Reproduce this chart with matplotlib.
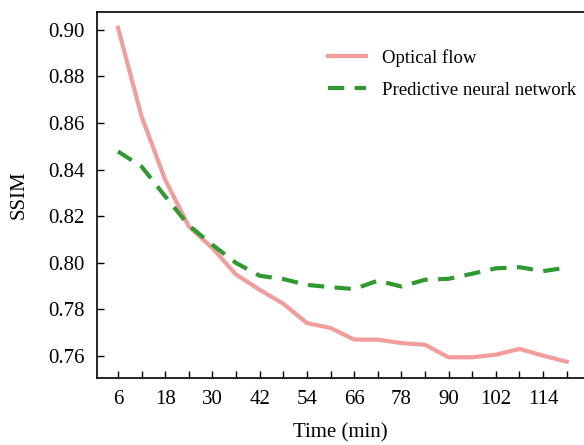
import matplotlib
matplotlib.use("Agg")
from matplotlib import pyplot as plt

# SSIM over forecast lead time for the two methods
minutes = [6, 12, 18, 24, 30, 36, 42, 48, 54, 60,
           66, 72, 78, 84, 90, 96, 102, 108, 114, 120]
optical_flow = [0.9009, 0.8628, 0.8356, 0.8156, 0.8063, 0.7949, 0.7884, 0.7824, 0.7741, 0.7720,
                0.7670, 0.7670, 0.7655, 0.7648, 0.7594, 0.7594, 0.7605, 0.7630, 0.7601, 0.7575]
predictive_nn = [0.8478, 0.8413, 0.8285, 0.8160, 0.8077, 0.7999, 0.7944, 0.7930, 0.7905, 0.7895,
                 0.7887, 0.7923, 0.7898, 0.7927, 0.7931, 0.7953, 0.7976, 0.7981, 0.7964, 0.7979]
yticks = [0.76, 0.78, 0.80, 0.82, 0.84, 0.86, 0.88, 0.90]

plt.rcParams['font.family'] = ['Liberation Serif', 'DejaVu Serif']

fig = plt.figure(figsize=(5.84, 4.45), dpi=100)
ax = fig.add_axes([97/584, 67/445, 487/584, 366/445])

ax.plot(minutes, optical_flow, c='#f39c9c', lw=3, label='Optical flow')
ax.plot(minutes, predictive_nn, c='#2f9a2f', lw=3, ls='--', dashes=(3.9, 2.5),
        label='Predictive neural network')

ax.set_xlim(0.66, 124.4)
ax.set_ylim(0.7505, 0.9077)
ax.set_xticks(minutes)
ax.set_xticklabels([str(m) if i % 2 == 0 else '' for i, m in enumerate(minutes)])
ax.set_yticks(yticks)
ax.set_yticklabels(['%.2f' % v for v in yticks])
ax.tick_params(direction='in', length=5, width=1, labelsize=15, pad=9)
ax.spines['right'].set_visible(False)
for s in ['left', 'bottom', 'top']:
    ax.spines[s].set_linewidth(1.2)

ax.set_xlabel('Time (min)', fontsize=15, labelpad=10)
ax.set_ylabel('SSIM', fontsize=15, labelpad=14)
ax.legend(loc='upper right', bbox_to_anchor=(1.018, 0.945), frameon=False,
          fontsize=13.5, handlelength=2.0, handletextpad=0.85, labelspacing=0.8)

fig.savefig('out.png', dpi=100)
